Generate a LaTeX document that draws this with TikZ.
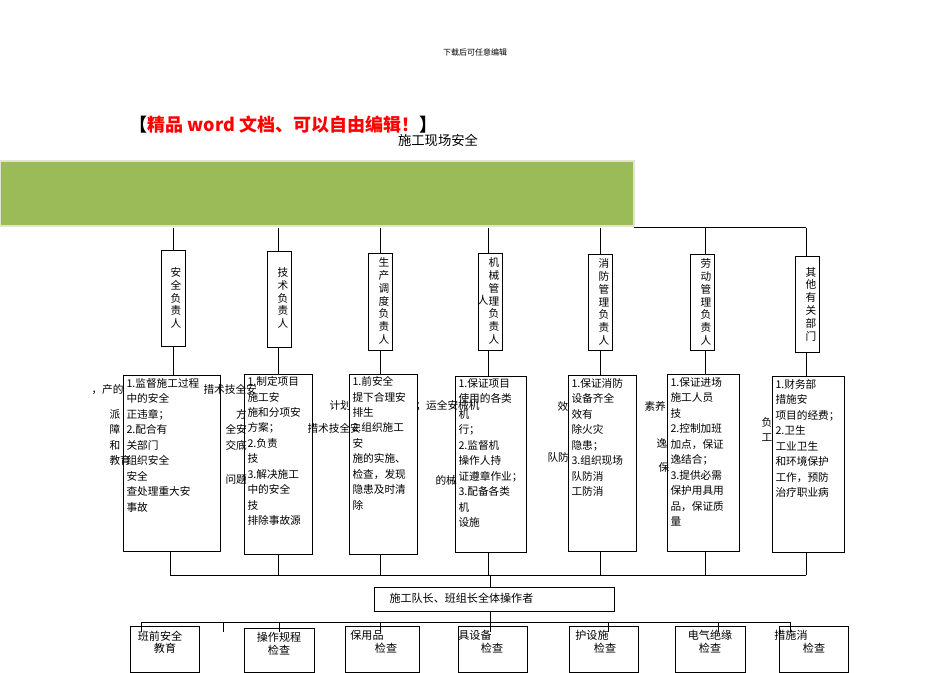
\documentclass[tikz,border=0pt]{standalone}
\usepackage{fontspec}
\newfontfamily\cjk{Noto Sans CJK SC}
\tikzset{every picture/.style={line width=0.75pt}}
\tikzset{
	rolebox/.style={draw, line width=0.6pt, inner sep=0pt},
	dutybox/.style={draw, line width=0.6pt},
	duty/.style={anchor=north west, inner sep=0.75pt, align=left, font=\cjk\fontsize{8}{11.6}\selectfont},
	vtext/.style={align=center, inner sep=0.75pt, font=\cjk\fontsize{8}{9.6}\selectfont},
	small/.style={inner sep=0.75pt, font=\cjk\fontsize{8.3}{11}\selectfont}}
\begin{document}
\begin{tikzpicture}[x=0.75pt,y=0.75pt,yscale=-1,xscale=1]
	\useasboundingbox (0,0) rectangle (950,672);
	
	% Text Node
	\draw (475,52) node [small, font=\cjk\fontsize{6}{7}\selectfont]  {下载后可任意编辑};
	% Text Node
	\draw (128,125) node [anchor=west][inner sep=0.75pt] [font=\cjk\bfseries\fontsize{13.5}{15}\selectfont]  {【\textcolor{red}{精品 word 文档、可以自由编辑！}】};
	% Text Node
	\draw (438,140) node [small, font=\cjk\fontsize{10}{12}\selectfont]  {施工现场安全};
	
	%Shape: Rectangle [id:green bar] 
	\draw [draw={rgb, 255:red, 225; green, 228; blue, 210 }, line width=1.5pt, fill={rgb, 255:red, 155; green, 187; blue, 89 }] (0,161) rectangle (634,226) ;
	\coordinate (barR) at (634,227);
	\draw [line width=0.6pt] (barR) -- (806,227) ;
	
	%Role boxes
	\draw [rolebox] (161,250) rectangle (185,346) ;
	\draw [rolebox] (267,251) rectangle (291,347) ;
	\draw [rolebox] (368,253) rectangle (392,350) ;
	\draw [rolebox] (478,253) rectangle (502,350) ;
	\draw [rolebox] (588,254) rectangle (612,350) ;
	\draw [rolebox] (690,254) rectangle (714,350) ;
	\draw [rolebox] (795,256) rectangle (819,352) ;
	\draw (176,298) node [vtext] (role1) {安\\全\\负\\责\\人};
	\draw (283,298) node [vtext] (role2) {技\\术\\负\\责\\人};
	\draw (384,301) node [vtext] (role3) {生\\产\\调\\度\\负\\责\\人};
	\draw (494,301) node [vtext] (role4) {机\\械\\管\\理\\负\\责\\人};
	\draw (483,300) node [small] {人};
	\draw (604,302) node [vtext] (role5) {消\\防\\管\\理\\负\\责\\人};
	\draw (706,302) node [vtext] (role6) {劳\\动\\管\\理\\负\\责\\人};
	\draw (811,304) node [vtext] (role7) {其\\他\\有\\关\\部\\门};
	
	%Connectors from bar to roles
	\foreach \x/\t in {173/250, 278/251, 380/253, 488/253, 600/254, 705/254, 806/256}{
		\draw [line width=0.6pt] (\x,228) -- (\x,\t) ;
	}
	\draw [line width=0.6pt] (173,346) -- (173,375) ;
	\draw [line width=0.6pt] (278,347) -- (278,374) ;
	\draw [line width=0.6pt] (380,350) -- (380,374) ;
	\draw [line width=0.6pt] (488,350) -- (488,376) ;
	\draw [line width=0.6pt] (600,350) -- (600,375) ;
	\draw [line width=0.6pt] (705,350) -- (705,374) ;
	\draw [line width=0.6pt] (806,352) -- (806,376) ;
	
	%Duty boxes
	\draw [dutybox] (123,375) rectangle (220,551) ;
	\draw [dutybox] (244,374) rectangle (312,554) ;
	\draw [dutybox] (349,374) rectangle (417,554) ;
	\draw [dutybox] (455,376) rectangle (526,552) ;
	\draw [dutybox] (568,375) rectangle (636,551) ;
	\draw [dutybox] (667,374) rectangle (739,551) ;
	\draw [dutybox] (772,376) rectangle (844,552) ;
	
	% Text Nodes
	\draw (125,377) node [duty] {1.监督施工过程\\中的安全\\ 正违章；\\2.配合有\\ 关部门\\ 组织安全\\ 安全\\ 查处理重大安\\ 事故};
	\draw (90,383) node [duty] {，产的};
	\draw (108,408) node [duty] {派\\障\\和\\教育};
	\draw (202,383) node [duty] {措术技全安};
	\draw (246,375) node [duty] {1.制定项目\\施工安\\施和分项安\\方案；\\2.负责\\技\\3.解决施工\\中的安全\\技\\排除事故源};
	\draw (224,408) node [duty, align=right] {方\\全安\\交底};
	\draw (224,473) node [duty] {问题};
	\draw (306,422) node [duty] {措术技全安};
	\draw (351,375) node [duty] {1.前安全\\提下合理安\\排生\\2.组织施工\\安\\施的实施、\\检查，发现\\隐患及时清\\除};
	\draw (328,399) node [duty] {计划};
	\draw (414,399) node [duty] {；运全安械机};
	\draw (457,377) node [duty] {1.保证项目\\使用的各类\\机\\行；\\2.监督机\\操作人持\\证遵章作业；\\3.配备各类\\机\\设施};
	\draw (434,474) node [duty] {的械};
	\draw (570,377) node [duty] {1.保证消防\\设备齐全\\效有\\除火灾\\隐患；\\3.组织现场\\队防消\\工防消};
	\draw (556,400) node [duty] {效};
	\draw (546,451) node [duty] {队防};
	\draw (669,376) node [duty] {1.保证进场\\施工人员\\技\\2.控制加班\\加点，保证\\逸结合；\\3.提供必需\\保护用具用\\品，保证质\\量};
	\draw (643,400) node [duty] {素养};
	\draw (655,437) node [duty] {逸};
	\draw (657,461) node [duty] {保};
	\draw (774,378) node [duty] {1.财务部\\措施安\\项目的经费；\\2.卫生\\工业卫生\\和环境保护\\工作，预防\\治疗职业病};
	\draw (760,416) node [duty] {负\\工};
	
	%Bus to team box
	\foreach \x/\y in {170/551, 278/554, 380/554, 488/552, 600/551, 705/551, 806/552}{
		\draw [line width=0.6pt] (\x,\y) -- (\x,575) ;
	}
	\draw [line width=0.6pt] (170,575) -- (806,575) ;
	\draw [line width=0.6pt] (490,575) -- (490,587) ;
	\draw [dutybox] (374,587) rectangle (614,611) ;
	\draw (388,598) node [small, anchor=west] (team) {施工队长、班组长全体操作者};
	
	%Bus to check boxes
	\draw [line width=0.6pt] (490,611) -- (490,622) ;
	\draw [line width=0.6pt] (141,622) -- (790,622) ;
	\foreach \x in {141,223,279,380,490,608,718,790}{
		\draw [line width=0.6pt] (\x,622) -- (\x,632) ;
	}
	\draw [dutybox] (130,626) rectangle (199,672) ;
	\draw [dutybox] (244,628) rectangle (314,672) ;
	\draw [dutybox] (345,626) rectangle (419,672) ;
	\draw [dutybox] (458,626) rectangle (527,672) ;
	\draw [dutybox] (569,626) rectangle (638,672) ;
	\draw [dutybox] (675,626) rectangle (745,672) ;
	\draw [dutybox] (779,626) rectangle (848,672) ;
	\draw (160,636) node [small] {班前安全};
	\draw (165,648) node [small] {教育};
	\draw (279,637) node [small] {操作规程};
	\draw (279,650) node [small] {检查};
	\draw (367,635) node [small] {保用品};
	\draw (386,648) node [small] {检查};
	\draw (475,635) node [small] {具设备};
	\draw (492,648) node [small] {检查};
	\draw (592,635) node [small] {护设施};
	\draw (605,648) node [small] {检查};
	\draw (710,635) node [small] {电气绝缘};
	\draw (710,648) node [small] {检查};
	\draw (791,635) node [small] {措施消};
	\draw (814,648) node [small] {检查};
	
\end{tikzpicture}
\end{document}
